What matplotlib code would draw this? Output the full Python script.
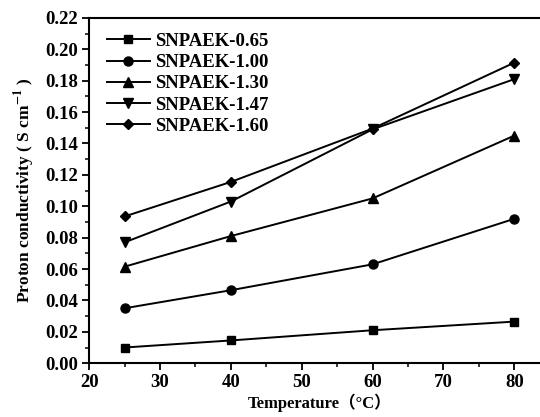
import numpy as np
import matplotlib
matplotlib.use('Agg')
import matplotlib.pyplot as plt
from matplotlib.ticker import MultipleLocator

plt.rcParams['font.family'] = ['Liberation Serif', 'Noto Sans CJK SC']
plt.rcParams['font.weight'] = 'bold'
plt.rcParams['mathtext.fontset'] = 'stix'

# Data
temperature = [25, 40, 60, 80]
labels = ['SNPAEK-0.65', 'SNPAEK-1.00', 'SNPAEK-1.30', 'SNPAEK-1.47', 'SNPAEK-1.60']
s065 = [0.0100, 0.0145, 0.0210, 0.0265]
s100 = [0.0350, 0.0465, 0.0630, 0.0920]
s130 = [0.0615, 0.0810, 0.1050, 0.1450]
s147 = [0.0770, 0.1030, 0.1490, 0.1810]
s160 = [0.0935, 0.1155, 0.1495, 0.1915]
series = [s065, s100, s130, s147, s160]
markers = ['s', 'o', '^', 'v', 'D']

fig = plt.figure(figsize=(5.4, 4.17), dpi=100)
ax = fig.add_axes([0.165, 0.129, 0.853, 0.828])

for vals, lab, mk in zip(series, labels, markers):
    ms = 5.5 if mk in ('D', 's') else 6.5
    ax.plot(temperature, vals, color='black', lw=1.4, marker=mk, ms=ms, label=lab)

ax.set_xlim(20, 85)
ax.set_ylim(0, 0.22)
ax.xaxis.set_major_locator(MultipleLocator(10))
ax.xaxis.set_minor_locator(MultipleLocator(5))
ax.yaxis.set_major_locator(MultipleLocator(0.02))
ax.yaxis.set_minor_locator(MultipleLocator(0.01))
ax.yaxis.set_major_formatter(plt.FuncFormatter(lambda v, p: '%.2f' % v))
ax.tick_params(which='major', direction='out', length=5, width=1.3, labelsize=13.5, pad=3)
ax.tick_params(which='minor', direction='out', length=3, width=1.1)
for sp in ax.spines.values():
    sp.set_linewidth(1.5)
for t in ax.get_xticklabels() + ax.get_yticklabels():
    t.set_fontweight('bold')

ax.set_xlabel('Temperature（°C）', fontsize=12, fontweight='bold', labelpad=2)
ax.set_ylabel('Proton conductivity ( S cm$^{\\mathbf{-1}}$ )', fontsize=12.5, fontweight='bold', labelpad=6)

leg = ax.legend(loc='upper left', frameon=False, fontsize=13.5, handlelength=2.3,
                handletextpad=0.25, labelspacing=0.22, borderaxespad=0.3,
                bbox_to_anchor=(0.01, 0.995))
for t in leg.get_texts():
    t.set_fontweight('bold')

fig.savefig('out.png', dpi=100)
